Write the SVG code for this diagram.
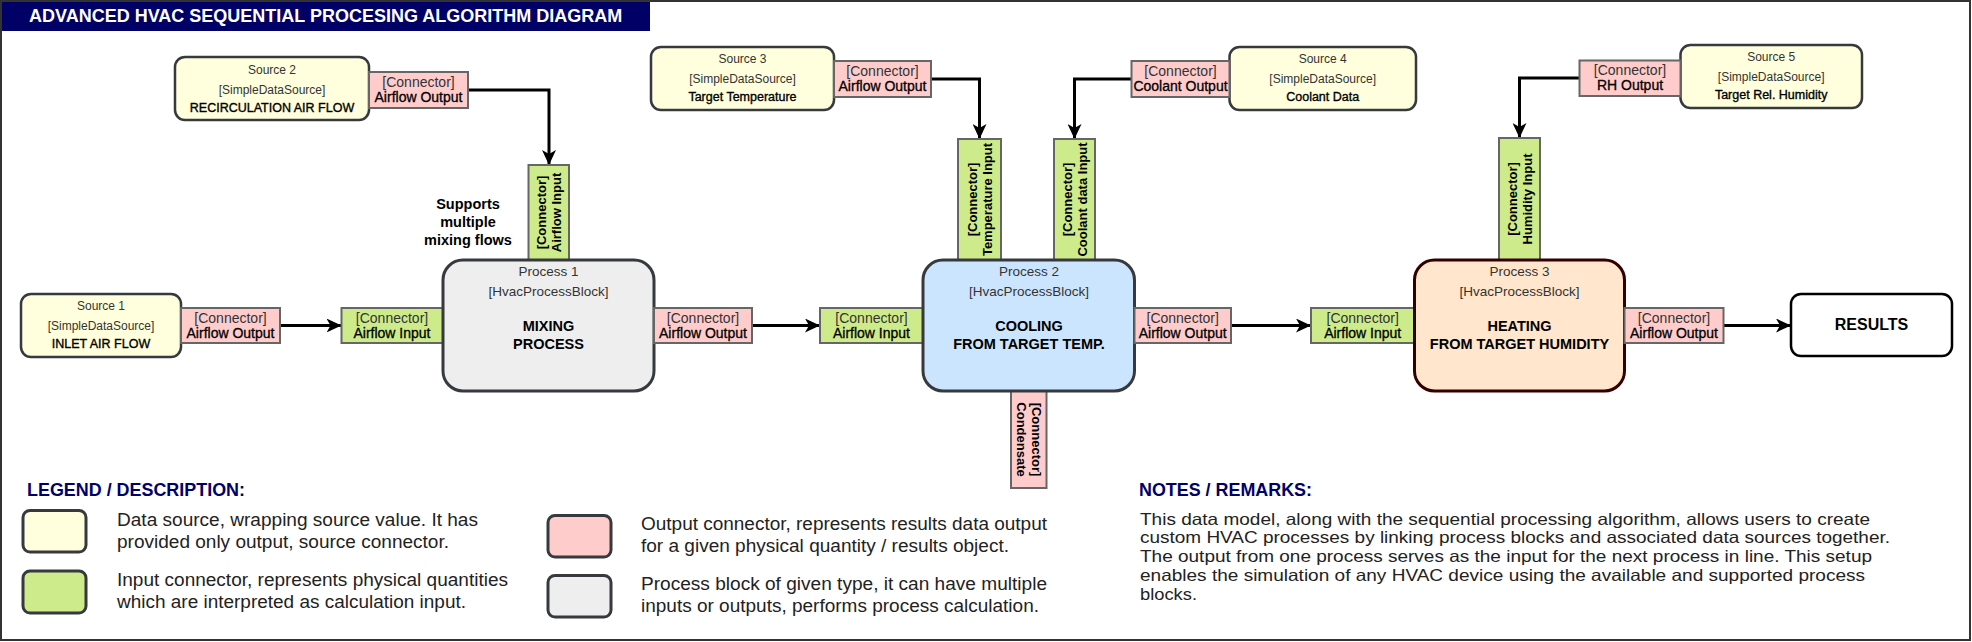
<svg xmlns="http://www.w3.org/2000/svg" width="1972" height="642" viewBox="0 0 1972 642">
<defs>
<style>
text{font-family:"Liberation Sans",Arial,Helvetica,sans-serif}
.src{fill:#ffffdd;stroke:#36393d;stroke-width:2.5}
.in{fill:#cdeb8b;stroke:#666666;stroke-width:2}
.out{fill:#ffcccc;stroke:#666666;stroke-width:2}
.proc{stroke-width:3}
.edge{fill:none;stroke:#000;stroke-width:3;marker-end:url(#arr)}
.s1{font-size:12px;fill:#333;text-anchor:middle}
.s3{font-size:12.5px;fill:#000;stroke:#000;stroke-width:0.35;text-anchor:middle}
.c1{font-size:14px;fill:#333;text-anchor:middle}
.c2{font-size:14px;fill:#000;stroke:#000;stroke-width:0.3;text-anchor:middle}
.v{font-size:13px;font-weight:bold;fill:#000;text-anchor:middle}
.p1{font-size:13.5px;fill:#333;text-anchor:middle}
.p2{font-size:14.5px;font-weight:bold;fill:#000;text-anchor:middle}
.h{font-size:18px;font-weight:bold;fill:#000066}
.lg{font-size:17.5px;fill:#222}
.nt{font-size:16.5px;fill:#222}
.lsq{stroke:#36393d;stroke-width:3}
</style>
<marker id="arr" markerUnits="userSpaceOnUse" markerWidth="16" markerHeight="14" viewBox="0 0 16 14" refX="15" refY="7" orient="auto">
<path d="M0,0 L15,7 L0,14 L4,7 z" fill="#000"/>
</marker>
</defs>
<rect x="0" y="0" width="1972" height="642" fill="#fff"/>
<rect x="0" y="0" width="650" height="31" fill="#000066"/>
<text x="29" y="22" font-size="18" font-weight="bold" fill="#fff">ADVANCED HVAC SEQUENTIAL PROCESING ALGORITHM DIAGRAM</text>
<rect x="1" y="1" width="1969" height="639" fill="none" stroke="#333" stroke-width="2"/>

<g id="connectors">
<path class="edge" d="M280,325.5 H341.5"/>
<path class="edge" d="M468,90 H549 V165"/>
<path class="edge" d="M752,325.5 H820"/>
<path class="edge" d="M931,79 H979.5 V139"/>
<path class="edge" d="M1131.5,79 H1074.5 V139"/>
<path class="edge" d="M1231,325.5 H1311"/>
<path class="edge" d="M1579.5,78 H1519.5 V138"/>
<path class="edge" d="M1723.5,325.5 H1791"/>
</g>

<g id="source1">
<rect class="src" x="21" y="294" width="160" height="63" rx="10"/>
<text class="s1" x="101" y="310">Source 1</text>
<text class="s1" x="101" y="330">[SimpleDataSource]</text>
<text class="s3" x="101" y="348">INLET AIR FLOW</text>
</g>
<g id="source1-out">
<rect class="out" x="181" y="308" width="99" height="35"/>
<text class="c1" x="230.5" y="322.5">[Connector]</text>
<text class="c2" x="230.5" y="337.5">Airflow Output</text>
</g>

<g id="source2">
<rect class="src" x="175" y="57" width="194" height="63" rx="10"/>
<text class="s1" x="272" y="73.5">Source 2</text>
<text class="s1" x="272" y="93.5">[SimpleDataSource]</text>
<text class="s3" x="272" y="111.5">RECIRCULATION AIR FLOW</text>
</g>
<g id="source2-out">
<rect class="out" x="369" y="72" width="99" height="36"/>
<text class="c1" x="418.5" y="87">[Connector]</text>
<text class="c2" x="418.5" y="102">Airflow Output</text>
</g>

<g id="note-mixing">
<text x="468" y="209" font-size="14.5" font-weight="bold" text-anchor="middle">Supports</text>
<text x="468" y="227" font-size="14.5" font-weight="bold" text-anchor="middle">multiple</text>
<text x="468" y="245" font-size="14.5" font-weight="bold" text-anchor="middle">mixing flows</text>
</g>

<g id="process1-in-top">
<rect class="in" x="528.5" y="165" width="40.5" height="95"/>
<text class="v" x="546" y="212.5" transform="rotate(-90 546 212.5)">[Connector]</text>
<text class="v" x="561" y="212.5" transform="rotate(-90 561 212.5)">Airflow Input</text>
</g>
<g id="process1-in">
<rect class="in" x="341.5" y="308" width="101.5" height="35"/>
<text class="c1" x="392" y="322.5">[Connector]</text>
<text class="c2" x="392" y="337.5">Airflow Input</text>
</g>
<g id="process1">
<rect class="proc" x="443" y="260" width="211" height="131" rx="20" fill="#eeeeee" stroke="#36393d"/>
<text class="p1" x="548.5" y="275.5">Process 1</text>
<text class="p1" x="548.5" y="295.5">[HvacProcessBlock]</text>
<text class="p2" x="548.5" y="331">MIXING</text>
<text class="p2" x="548.5" y="349">PROCESS</text>
</g>
<g id="process1-out">
<rect class="out" x="654" y="308" width="98" height="35"/>
<text class="c1" x="703" y="322.5">[Connector]</text>
<text class="c2" x="703" y="337.5">Airflow Output</text>
</g>

<g id="source3">
<rect class="src" x="651" y="47" width="183" height="63" rx="10"/>
<text class="s1" x="742.5" y="63">Source 3</text>
<text class="s1" x="742.5" y="83">[SimpleDataSource]</text>
<text class="s3" x="742.5" y="101">Target Temperature</text>
</g>
<g id="source3-out">
<rect class="out" x="834" y="61" width="97" height="36"/>
<text class="c1" x="882.5" y="76">[Connector]</text>
<text class="c2" x="882.5" y="91">Airflow Output</text>
</g>

<g id="source4">
<rect class="src" x="1229.5" y="47" width="186.5" height="63" rx="10"/>
<text class="s1" x="1322.7" y="63">Source 4</text>
<text class="s1" x="1322.7" y="83">[SimpleDataSource]</text>
<text class="s3" x="1322.7" y="101">Coolant Data</text>
</g>
<g id="source4-out">
<rect class="out" x="1131.5" y="61" width="98" height="36"/>
<text class="c1" x="1180.5" y="76">[Connector]</text>
<text class="c2" x="1180.5" y="91">Coolant Output</text>
</g>

<g id="process2-in-temp">
<rect class="in" x="958" y="139" width="43" height="121"/>
<text class="v" x="976.7" y="199.5" transform="rotate(-90 976.7 199.5)">[Connector]</text>
<text class="v" x="991.7" y="199.5" transform="rotate(-90 991.7 199.5)">Temperature Input</text>
</g>
<g id="process2-in-coolant">
<rect class="in" x="1054" y="139" width="41" height="121"/>
<text class="v" x="1071.7" y="199.5" transform="rotate(-90 1071.7 199.5)">[Connector]</text>
<text class="v" x="1086.7" y="199.5" transform="rotate(-90 1086.7 199.5)">Coolant data Input</text>
</g>
<g id="process2-in">
<rect class="in" x="820" y="308" width="103" height="35"/>
<text class="c1" x="871.5" y="322.5">[Connector]</text>
<text class="c2" x="871.5" y="337.5">Airflow Input</text>
</g>
<g id="process2-condensate">
<rect class="out" x="1011" y="391" width="35.5" height="97"/>
<text class="v" x="1031.5" y="439.5" transform="rotate(90 1031.5 439.5)">[Connector]</text>
<text class="v" x="1016.5" y="439.5" transform="rotate(90 1016.5 439.5)">Condensate</text>
</g>
<g id="process2">
<rect class="proc" x="923" y="260" width="211.5" height="131" rx="20" fill="#cce5ff" stroke="#36393d"/>
<text class="p1" x="1029" y="275.5">Process 2</text>
<text class="p1" x="1029" y="295.5">[HvacProcessBlock]</text>
<text class="p2" x="1029" y="331">COOLING</text>
<text class="p2" x="1029" y="349">FROM TARGET TEMP.</text>
</g>
<g id="process2-out">
<rect class="out" x="1134.5" y="308" width="96.5" height="35"/>
<text class="c1" x="1182.7" y="322.5">[Connector]</text>
<text class="c2" x="1182.7" y="337.5">Airflow Output</text>
</g>

<g id="source5">
<rect class="src" x="1680.5" y="45" width="181.5" height="63" rx="10"/>
<text class="s1" x="1771.2" y="61">Source 5</text>
<text class="s1" x="1771.2" y="81">[SimpleDataSource]</text>
<text class="s3" x="1771.2" y="99">Target Rel. Humidity</text>
</g>
<g id="source5-out">
<rect class="out" x="1579.5" y="60.5" width="101" height="35.5"/>
<text class="c1" x="1630" y="75.3">[Connector]</text>
<text class="c2" x="1630" y="90.3">RH Output</text>
</g>

<g id="process3-in-humidity">
<rect class="in" x="1499" y="138" width="41" height="122"/>
<text class="v" x="1516.7" y="199" transform="rotate(-90 1516.7 199)">[Connector]</text>
<text class="v" x="1531.7" y="199" transform="rotate(-90 1531.7 199)">Humidity Input</text>
</g>
<g id="process3-in">
<rect class="in" x="1311" y="308" width="103.5" height="35"/>
<text class="c1" x="1362.7" y="322.5">[Connector]</text>
<text class="c2" x="1362.7" y="337.5">Airflow Input</text>
</g>
<g id="process3">
<rect class="proc" x="1414.5" y="260" width="210" height="131" rx="20" fill="#ffe6cc" stroke="#330000"/>
<text class="p1" x="1519.5" y="275.5">Process 3</text>
<text class="p1" x="1519.5" y="295.5">[HvacProcessBlock]</text>
<text class="p2" x="1519.5" y="331">HEATING</text>
<text class="p2" x="1519.5" y="349">FROM TARGET HUMIDITY</text>
</g>
<g id="process3-out">
<rect class="out" x="1624.5" y="308" width="99" height="35"/>
<text class="c1" x="1674" y="322.5">[Connector]</text>
<text class="c2" x="1674" y="337.5">Airflow Output</text>
</g>

<g id="results">
<rect x="1791" y="294" width="161" height="62" rx="10" fill="#fff" stroke="#000" stroke-width="2.5"/>
<text x="1871.5" y="330" font-size="16" font-weight="bold" text-anchor="middle">RESULTS</text>
</g>

<g id="legend">
<text class="h" x="27" y="495.5" textLength="218" lengthAdjust="spacingAndGlyphs">LEGEND / DESCRIPTION:</text>
<rect class="lsq" x="23" y="510.5" width="63" height="41.5" rx="7" fill="#ffffdd"/>
<text class="lg" x="117" y="526" textLength="361" lengthAdjust="spacingAndGlyphs">Data source, wrapping source value. It has</text>
<text class="lg" x="117" y="548" textLength="332" lengthAdjust="spacingAndGlyphs">provided only output, source connector.</text>
<rect class="lsq" x="23" y="571" width="63" height="42" rx="7" fill="#cdeb8b"/>
<text class="lg" x="117" y="585.5" textLength="391" lengthAdjust="spacingAndGlyphs">Input connector, represents physical quantities</text>
<text class="lg" x="117" y="607.5" textLength="349" lengthAdjust="spacingAndGlyphs">which are interpreted as calculation input.</text>
<rect class="lsq" x="548" y="515.5" width="63" height="41.5" rx="7" fill="#ffcccc"/>
<text class="lg" x="641" y="530" textLength="406" lengthAdjust="spacingAndGlyphs">Output connector, represents results data output</text>
<text class="lg" x="641" y="552" textLength="368" lengthAdjust="spacingAndGlyphs">for a given physical quantity / results object.</text>
<rect class="lsq" x="548" y="575.5" width="63" height="41.5" rx="7" fill="#eeeeee"/>
<text class="lg" x="641" y="590" textLength="406" lengthAdjust="spacingAndGlyphs">Process block of given type, it can have multiple</text>
<text class="lg" x="641" y="612" textLength="398" lengthAdjust="spacingAndGlyphs">inputs or outputs, performs process calculation.</text>
</g>

<g id="notes">
<text class="h" x="1139" y="496" textLength="173" lengthAdjust="spacingAndGlyphs">NOTES / REMARKS:</text>
<text class="nt" x="1140" y="524.5" textLength="730" lengthAdjust="spacingAndGlyphs">This data model, along with the sequential processing algorithm, allows users to create</text>
<text class="nt" x="1140" y="543.3" textLength="750" lengthAdjust="spacingAndGlyphs">custom HVAC processes by linking process blocks and associated data sources together.</text>
<text class="nt" x="1140" y="562.1" textLength="732" lengthAdjust="spacingAndGlyphs">The output from one process serves as the input for the next process in line. This setup</text>
<text class="nt" x="1140" y="580.9" textLength="725" lengthAdjust="spacingAndGlyphs">enables the simulation of any HVAC device using the available and supported process</text>
<text class="nt" x="1140" y="599.7" textLength="57" lengthAdjust="spacingAndGlyphs">blocks.</text>
</g>
</svg>
